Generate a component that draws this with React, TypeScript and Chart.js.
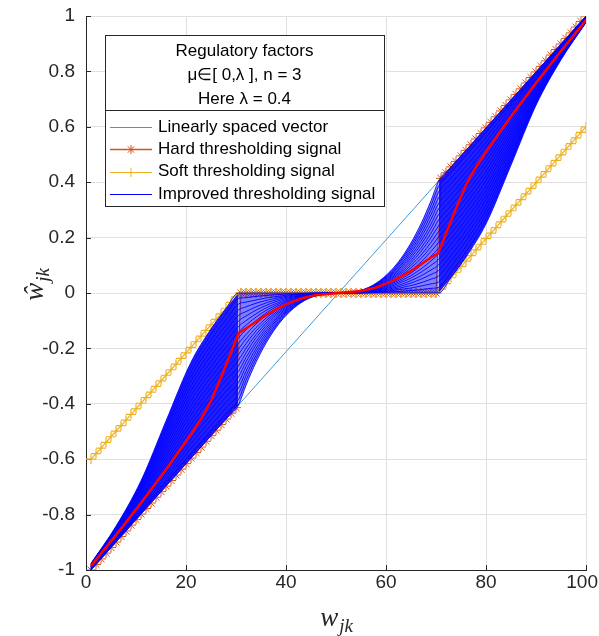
import React, { useEffect, useRef } from "react";
import { Chart, registerables } from "chart.js";

Chart.register(...registerables);

// ---------- axes ----------
const X_TICKS = [0, 20, 40, 60, 80, 100];
const X_TICK_LABELS = ["0", "20", "40", "60", "80", "100"];
const Y_TICKS = [-1, -0.8, -0.6, -0.4, -0.2, 0, 0.2, 0.4, 0.6, 0.8, 1];
const Y_TICK_LABELS = ["-1", "-0.8", "-0.6", "-0.4", "-0.2", "0", "0.2", "0.4", "0.6", "0.8", "1"];

// ---------- legend text ----------
const LEGEND_TITLE = ["Regulatory factors", "\u03bc\u2208[ 0,\u03bb ], n = 3", "Here \u03bb = 0.4"];
const SERIES_NAMES = [
  "Linearly spaced vector",
  "Hard thresholding signal",
  "Soft thresholding signal",
  "Improved thresholding signal",
];

// ---------- data ----------
const SIGNAL_X = [
  1, 2, 3, 4, 5, 6, 7, 8, 9, 10, 11, 12, 13, 14, 15, 16, 17, 18, 19, 20,
  21, 22, 23, 24, 25, 26, 27, 28, 29, 30, 31, 32, 33, 34, 35, 36, 37, 38, 39, 40,
  41, 42, 43, 44, 45, 46, 47, 48, 49, 50, 51, 52, 53, 54, 55, 56, 57, 58, 59, 60,
  61, 62, 63, 64, 65, 66, 67, 68, 69, 70, 71, 72, 73, 74, 75, 76, 77, 78, 79, 80,
  81, 82, 83, 84, 85, 86, 87, 88, 89, 90, 91, 92, 93, 94, 95, 96, 97, 98, 99, 100,
];

const LINEAR_X = [1, 100];
const LINEAR_Y = [-1, 1];

const HARD_Y = [
  -1.0, -0.98, -0.96, -0.939, -0.919, -0.899, -0.879, -0.859, -0.838, -0.818,
  -0.798, -0.778, -0.758, -0.737, -0.717, -0.697, -0.677, -0.657, -0.636, -0.616,
  -0.596, -0.576, -0.556, -0.535, -0.515, -0.495, -0.475, -0.455, -0.434, -0.414,
  0, 0, 0, 0, 0, 0, 0, 0, 0, 0,
  0, 0, 0, 0, 0, 0, 0, 0, 0, 0,
  0, 0, 0, 0, 0, 0, 0, 0, 0, 0,
  0, 0, 0, 0, 0, 0, 0, 0, 0, 0,
  0.414, 0.434, 0.455, 0.475, 0.495, 0.515, 0.535, 0.556, 0.576, 0.596,
  0.616, 0.636, 0.657, 0.677, 0.697, 0.717, 0.737, 0.758, 0.778, 0.798,
  0.818, 0.838, 0.859, 0.879, 0.899, 0.919, 0.939, 0.96, 0.98, 1.0,
];

const SOFT_Y = [
  -0.6, -0.58, -0.56, -0.539, -0.519, -0.499, -0.479, -0.459, -0.438, -0.418,
  -0.398, -0.378, -0.358, -0.337, -0.317, -0.297, -0.277, -0.257, -0.236, -0.216,
  -0.196, -0.176, -0.156, -0.135, -0.115, -0.095, -0.075, -0.055, -0.034, -0.014,
  0, 0, 0, 0, 0, 0, 0, 0, 0, 0,
  0, 0, 0, 0, 0, 0, 0, 0, 0, 0,
  0, 0, 0, 0, 0, 0, 0, 0, 0, 0,
  0, 0, 0, 0, 0, 0, 0, 0, 0, 0,
  0.014, 0.034, 0.055, 0.075, 0.095, 0.115, 0.135, 0.156, 0.176, 0.196,
  0.216, 0.236, 0.257, 0.277, 0.297, 0.317, 0.337, 0.358, 0.378, 0.398,
  0.418, 0.438, 0.459, 0.479, 0.499, 0.519, 0.539, 0.56, 0.58, 0.6,
];

// highlighted improved curve (red)
const RED_X = [1, 6, 11, 16, 21, 23, 25, 27, 29, 30.5, 32, 34, 36, 38, 40, 43, 46, 50.5,
  55, 58, 61, 63, 65, 67, 69, 70.5, 72, 74, 76, 78, 80, 85, 90, 95, 100];
const RED_Y = [-0.985, -0.874, -0.758, -0.637, -0.51, -0.455, -0.39, -0.305, -0.215, -0.145,
  -0.128, -0.104, -0.08, -0.059, -0.041, -0.02, -0.007, 0,
  0.007, 0.02, 0.041, 0.059, 0.08, 0.104, 0.128, 0.145,
  0.215, 0.305, 0.39, 0.455, 0.51, 0.637, 0.758, 0.874, 0.985];

// improved thresholding family (left half; the right half is the odd mirror x -> 101 - x)
const IMPROVED_X_HALF = [1, 6, 11, 16, 21, 25, 28, 30.5, 32, 34, 36, 38, 40, 43, 46, 50.5];
const THRESHOLD_X = 30.5;
const MIRROR_SUM = 101;
const IMPROVED_MU = [0, 0.02, 0.04, 0.06, 0.08, 0.1, 0.12, 0.14, 0.16, 0.18, 0.2,
  0.22, 0.24, 0.26, 0.28, 0.3, 0.32, 0.34, 0.36, 0.38, 0.4];
const IMPROVED_Y_HALF = [
  [-1.0, -0.899, -0.798, -0.697, -0.596, -0.515, -0.455, -0.404, -0.333, -0.25, -0.181, -0.125, -0.081, -0.035, -0.01, 0],
  [-0.999, -0.896, -0.792, -0.685, -0.579, -0.496, -0.435, -0.384, -0.316, -0.237, -0.172, -0.119, -0.077, -0.033, -0.009, 0],
  [-0.998, -0.893, -0.786, -0.674, -0.561, -0.477, -0.415, -0.364, -0.299, -0.225, -0.163, -0.113, -0.073, -0.031, -0.009, 0],
  [-0.996, -0.89, -0.78, -0.662, -0.544, -0.457, -0.395, -0.343, -0.283, -0.212, -0.154, -0.106, -0.069, -0.03, -0.008, 0],
  [-0.995, -0.888, -0.774, -0.65, -0.527, -0.438, -0.375, -0.323, -0.266, -0.2, -0.145, -0.1, -0.065, -0.028, -0.008, 0],
  [-0.994, -0.885, -0.768, -0.638, -0.51, -0.419, -0.355, -0.303, -0.249, -0.187, -0.136, -0.094, -0.061, -0.026, -0.007, 0],
  [-0.993, -0.882, -0.762, -0.627, -0.492, -0.4, -0.335, -0.283, -0.233, -0.175, -0.127, -0.088, -0.057, -0.024, -0.007, 0],
  [-0.992, -0.879, -0.756, -0.615, -0.475, -0.38, -0.315, -0.263, -0.216, -0.162, -0.118, -0.081, -0.053, -0.023, -0.006, 0],
  [-0.99, -0.876, -0.75, -0.603, -0.458, -0.361, -0.295, -0.242, -0.2, -0.15, -0.109, -0.075, -0.049, -0.021, -0.006, 0],
  [-0.989, -0.873, -0.744, -0.591, -0.44, -0.342, -0.275, -0.222, -0.183, -0.137, -0.1, -0.069, -0.045, -0.019, -0.005, 0],
  [-0.988, -0.871, -0.738, -0.58, -0.423, -0.323, -0.256, -0.202, -0.166, -0.125, -0.091, -0.063, -0.041, -0.017, -0.005, 0],
  [-0.987, -0.868, -0.732, -0.568, -0.406, -0.303, -0.236, -0.182, -0.15, -0.112, -0.081, -0.056, -0.036, -0.016, -0.004, 0],
  [-0.986, -0.865, -0.726, -0.556, -0.388, -0.284, -0.216, -0.162, -0.133, -0.1, -0.072, -0.05, -0.032, -0.014, -0.004, 0],
  [-0.984, -0.862, -0.72, -0.544, -0.371, -0.265, -0.196, -0.141, -0.116, -0.087, -0.063, -0.044, -0.028, -0.012, -0.003, 0],
  [-0.983, -0.859, -0.714, -0.533, -0.354, -0.246, -0.176, -0.121, -0.1, -0.075, -0.054, -0.038, -0.024, -0.01, -0.003, 0],
  [-0.982, -0.856, -0.708, -0.521, -0.337, -0.226, -0.156, -0.101, -0.083, -0.062, -0.045, -0.031, -0.02, -0.009, -0.002, 0],
  [-0.981, -0.853, -0.702, -0.509, -0.319, -0.207, -0.136, -0.081, -0.067, -0.05, -0.036, -0.025, -0.016, -0.007, -0.002, 0],
  [-0.98, -0.851, -0.696, -0.497, -0.302, -0.188, -0.116, -0.061, -0.05, -0.037, -0.027, -0.019, -0.012, -0.005, -0.001, 0],
  [-0.978, -0.848, -0.69, -0.486, -0.285, -0.169, -0.096, -0.04, -0.033, -0.025, -0.018, -0.013, -0.008, -0.003, -0.001, 0],
  [-0.977, -0.845, -0.684, -0.474, -0.267, -0.149, -0.076, -0.02, -0.017, -0.012, -0.009, -0.006, -0.004, -0.002, 0, 0],
  [-0.976, -0.842, -0.678, -0.462, -0.25, -0.13, -0.056, 0, 0, 0, 0, 0, 0, 0, 0, 0],
];

// ---------- styles ----------
const LINEAR_COLOR = "#3f9ad8";
const HARD_COLOR = "#D95319";
const SOFT_COLOR = "#EDB120";
const IMPROVED_COLOR = "#0000FF";
const RED_COLOR = "#FF0000";
const AXIS_COLOR = "#262626";
const GRID_COLOR = "#e0e0e0";
const SANS = '"Liberation Sans", Arial, Helvetica, sans-serif';
const SERIF = '"Liberation Serif", "Times New Roman", serif';

type P = { x: number; y: number };
const pts = (xs: number[], ys: number[]): P[] => xs.map((x, i) => ({ x, y: ys[i] }));
const improvedCurve = (ys: number[]): P[] => {
  const left = pts(IMPROVED_X_HALF, ys);
  const right = left
    .slice(0, -1)
    .reverse()
    .map((p) => ({ x: MIRROR_SUM - p.x, y: p.y === 0 ? 0 : -p.y }));
  return left.concat(right);
};
const part = (arr: P[], lo: number, hi: number) => arr.filter((p) => p.x >= lo && p.x <= hi);

function buildDatasets() {
  const topCurve = improvedCurve(IMPROVED_Y_HALF[IMPROVED_Y_HALF.length - 1]);
  const bottomCurve = improvedCurve(IMPROVED_Y_HALF[0]);
  const lastX = SIGNAL_X[SIGNAL_X.length - 1];
  const firstX = SIGNAL_X[0];
  const ranges: [number, number, string][] = [
    [firstX, THRESHOLD_X, "rgba(0,0,255,0.88)"],
    [THRESHOLD_X, MIRROR_SUM - THRESHOLD_X, "rgba(0,0,255,0.5)"],
    [MIRROR_SUM - THRESHOLD_X, lastX, "rgba(0,0,255,0.88)"],
  ];
  const base = {
    pointRadius: 0,
    pointHoverRadius: 0,
    tension: 0,
  };
  const smooth = { cubicInterpolationMode: "monotone" };
  const ds: any[] = [
    {
      ...base,
      label: SERIES_NAMES[0],
      data: pts(LINEAR_X, LINEAR_Y),
      borderColor: LINEAR_COLOR,
      borderWidth: 1,
      fill: false,
      order: 100,
    },
    {
      ...base,
      label: SERIES_NAMES[1],
      data: pts(SIGNAL_X, HARD_Y),
      borderColor: HARD_COLOR,
      borderWidth: 1,
      pointStyle: "star",
      pointRadius: 5,
      pointBorderWidth: 1,
      pointBorderColor: HARD_COLOR,
      pointBackgroundColor: "rgba(0,0,0,0)",
      fill: false,
      order: 90,
    },
    {
      ...base,
      label: SERIES_NAMES[2],
      data: pts(SIGNAL_X, SOFT_Y),
      borderColor: SOFT_COLOR,
      borderWidth: 1.2,
      pointStyle: "cross",
      pointRadius: 5,
      pointBorderWidth: 1.2,
      pointBorderColor: SOFT_COLOR,
      pointBackgroundColor: "rgba(0,0,0,0)",
      fill: false,
      order: 80,
    },
  ];
  ranges.forEach(([lo, hi, color]) => {
    const idx = ds.length;
    ds.push({
      ...base,
      ...smooth,
      label: "band-bottom",
      data: part(bottomCurve, lo, hi),
      borderWidth: 0,
      borderColor: "rgba(0,0,0,0)",
      fill: false,
      order: 75,
    });
    ds.push({
      ...base,
      ...smooth,
      label: "band-top",
      data: part(topCurve, lo, hi),
      borderWidth: 0,
      borderColor: "rgba(0,0,0,0)",
      backgroundColor: color,
      fill: idx,
      order: 74,
    });
  });
  IMPROVED_Y_HALF.forEach((ys, i) => {
    ds.push({
      ...base,
      ...smooth,
      label: SERIES_NAMES[3] + " mu=" + IMPROVED_MU[i],
      data: improvedCurve(ys),
      borderColor: IMPROVED_COLOR,
      borderWidth: 0.9,
      fill: false,
      order: 60,
    });
  });
  ds.push({
    ...base,
    label: "highlight",
    data: pts(RED_X, RED_Y),
    borderColor: RED_COLOR,
    borderWidth: 2.5,
    fill: false,
    order: 10,
  });
  return ds;
}

function drawStar(ctx: CanvasRenderingContext2D, x: number, y: number, r: number) {
  const d = r * Math.SQRT1_2;
  ctx.beginPath();
  ctx.moveTo(x - r, y); ctx.lineTo(x + r, y);
  ctx.moveTo(x, y - r); ctx.lineTo(x, y + r);
  ctx.moveTo(x - d, y - d); ctx.lineTo(x + d, y + d);
  ctx.moveTo(x - d, y + d); ctx.lineTo(x + d, y - d);
  ctx.stroke();
}
function drawCross(ctx: CanvasRenderingContext2D, x: number, y: number, r: number) {
  ctx.beginPath();
  ctx.moveTo(x - r, y); ctx.lineTo(x + r, y);
  ctx.moveTo(x, y - r); ctx.lineTo(x, y + r);
  ctx.stroke();
}

const decorPlugin = {
  id: "decor",
  beforeDatasetsDraw(chart: any) {
    const { ctx, chartArea } = chart;
    const xs = chart.scales.x;
    const ys = chart.scales.y;
    ctx.save();
    ctx.strokeStyle = AXIS_COLOR;
    ctx.lineWidth = 1;
    ctx.beginPath();
    X_TICKS.forEach((v) => {
      const px = Math.round(xs.getPixelForValue(v)) + 0.5;
      ctx.moveTo(px, chartArea.bottom);
      ctx.lineTo(px, chartArea.bottom - 5);
    });
    Y_TICKS.forEach((v) => {
      const py = Math.round(ys.getPixelForValue(v)) + 0.5;
      ctx.moveTo(chartArea.left, py);
      ctx.lineTo(chartArea.left + 5, py);
    });
    ctx.stroke();
    ctx.restore();
  },
  afterDraw(chart: any) {
    const { ctx, chartArea } = chart;
    const xs = chart.scales.x;
    const ys = chart.scales.y;
    ctx.save();
    // tick labels
    ctx.fillStyle = AXIS_COLOR;
    ctx.font = `19px ${SANS}`;
    ctx.textBaseline = "middle";
    ctx.textAlign = "center";
    X_TICKS.forEach((v, i) => {
      const label = X_TICK_LABELS[i];
      const w = ctx.measureText(label).width;
      let px = xs.getPixelForValue(v);
      px = Math.min(px, chart.width - w / 2 - 1);
      ctx.fillText(label, px, chartArea.bottom + 13);
    });
    ctx.textAlign = "right";
    Y_TICKS.forEach((v, i) => {
      ctx.fillText(Y_TICK_LABELS[i], chartArea.left - 11, ys.getPixelForValue(v));
    });

    // x axis title  w_jk
    const cx = (chartArea.left + chartArea.right) / 2;
    ctx.textAlign = "left";
    ctx.textBaseline = "alphabetic";
    ctx.font = `italic 27px ${SERIF}`;
    const wW = ctx.measureText("w").width;
    ctx.font = `italic 19px ${SERIF}`;
    const jkW = ctx.measureText("jk").width;
    const startX = cx - (wW + jkW) / 2;
    ctx.font = `italic 27px ${SERIF}`;
    ctx.fillText("w", startX, chartArea.bottom + 56);
    ctx.font = `italic 19px ${SERIF}`;
    ctx.fillText("jk", startX + wW + 1, chartArea.bottom + 62);

    // y axis title  ŵ_jk
    const cy = (chartArea.top + chartArea.bottom) / 2 - 8;
    ctx.save();
    ctx.translate(43, cy);
    ctx.rotate(-Math.PI / 2);
    ctx.font = `italic 27px ${SERIF}`;
    const hW = ctx.measureText("\u0175").width;
    const sx = -(hW + jkW) / 2;
    ctx.fillText("\u0175", sx, 0);
    ctx.font = `italic 19px ${SERIF}`;
    ctx.fillText("jk", sx + hW + 1, 6);
    ctx.restore();

    // legend box
    const L = 105, T = 35, R = 384, SEP = 110, B = 206;
    ctx.fillStyle = "#ffffff";
    ctx.fillRect(L, T, R - L, B - T);
    ctx.strokeStyle = AXIS_COLOR;
    ctx.lineWidth = 1;
    ctx.strokeRect(L + 0.5, T + 0.5, R - L, B - T);
    ctx.beginPath();
    ctx.moveTo(L, SEP + 0.5);
    ctx.lineTo(R, SEP + 0.5);
    ctx.stroke();

    ctx.fillStyle = "#000000";
    ctx.font = `17px ${SANS}`;
    ctx.textAlign = "center";
    ctx.textBaseline = "middle";
    const titleY = [51, 75, 99];
    LEGEND_TITLE.forEach((t, i) => ctx.fillText(t, (L + R) / 2, titleY[i]));

    const entryY = [127, 149, 171.5, 194];
    const colors = [LINEAR_COLOR, HARD_COLOR, SOFT_COLOR, IMPROVED_COLOR];
    const x0 = 110, x1 = 152;
    ctx.textAlign = "left";
    SERIES_NAMES.forEach((name, i) => {
      const y = entryY[i];
      ctx.strokeStyle = colors[i];
      ctx.lineWidth = i === 1 ? 1.5 : 1;
      ctx.beginPath();
      ctx.moveTo(x0, Math.round(y) + 0.5);
      ctx.lineTo(x1, Math.round(y) + 0.5);
      ctx.stroke();
      if (i === 1) { ctx.lineWidth = 1; drawStar(ctx, (x0 + x1) / 2, Math.round(y) + 0.5, 4.5); }
      if (i === 2) { ctx.lineWidth = 1; drawCross(ctx, (x0 + x1) / 2, Math.round(y) + 0.5, 4.5); }
      ctx.fillStyle = "#000000";
      ctx.fillText(name, 158, y);
    });
    ctx.restore();
  },
};

export default function App() {
  const ref = useRef<HTMLCanvasElement>(null);
  useEffect(() => {
    document.body.style.margin = "0";
    const canvas = ref.current;
    if (!canvas) return;
    const chart = new Chart(canvas, {
      type: "line",
      data: { datasets: buildDatasets() },
      options: {
        animation: false,
        responsive: false,
        devicePixelRatio: 1,
        events: [],
        layout: { padding: { left: 0, right: 13, top: 16, bottom: 0 } },
        plugins: {
          legend: { display: false },
          tooltip: { enabled: false },
          title: { display: false },
        },
        scales: {
          x: {
            type: "linear",
            min: 0,
            max: 100,
            afterBuildTicks: (s: any) => {
              s.ticks = X_TICKS.map((v) => ({ value: v }));
            },
            afterFit: (s: any) => {
              s.height = 66;
            },
            ticks: { display: false },
            grid: { color: GRID_COLOR, drawTicks: false, lineWidth: 1 },
            border: { color: AXIS_COLOR, width: 1 },
          },
          y: {
            type: "linear",
            min: -1,
            max: 1,
            afterBuildTicks: (s: any) => {
              s.ticks = Y_TICKS.map((v) => ({ value: v }));
            },
            afterFit: (s: any) => {
              s.width = 86;
            },
            ticks: { display: false },
            grid: { color: GRID_COLOR, drawTicks: false, lineWidth: 1 },
            border: { color: AXIS_COLOR, width: 1 },
          },
        },
      } as any,
      plugins: [decorPlugin],
    });
    return () => chart.destroy();
  }, []);
  return (
    <div style={{ width: 599, height: 636, background: "#ffffff" }}>
      <canvas ref={ref} width={599} height={636} style={{ display: "block", width: 599, height: 636 }} />
    </div>
  );
}
